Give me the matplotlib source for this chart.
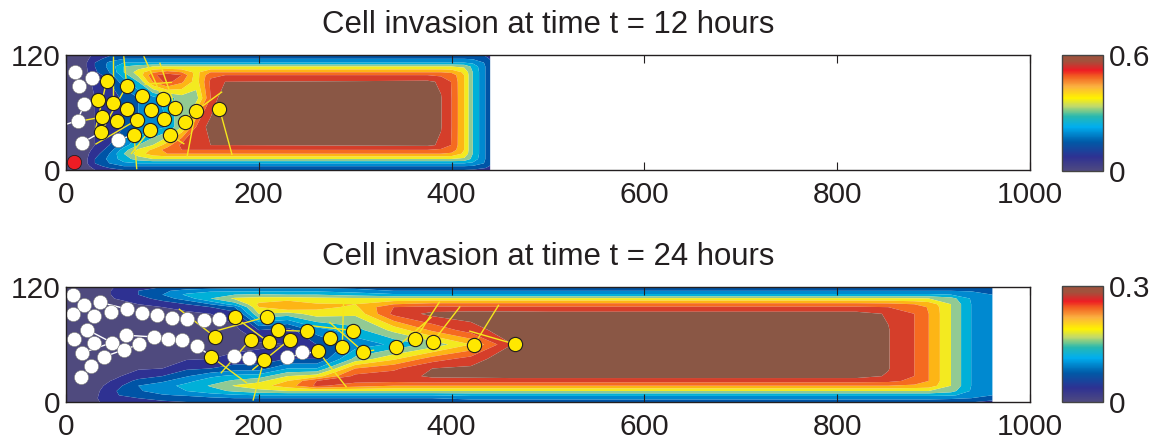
import matplotlib
matplotlib.use('Agg')
import matplotlib.pyplot as plt
import numpy as np
from matplotlib.cm import ScalarMappable
from matplotlib.colors import LinearSegmentedColormap, Normalize

plt.rcParams['font.family'] = ['Liberation Sans', 'DejaVu Sans']

# contour band colours and the smoother colorbar version
band_colors = ['#4f4a7e', '#2e3192', '#0054a6', '#0089d0', '#00b0d8', '#92ca93',
               '#f3ea20', '#fdb515', '#f56b20', '#d53e2a', '#8a5745']
bar_stops = [(0.0, '#4f4a80'), (0.12, '#2e3192'), (0.25, '#005aa7'), (0.38, '#00aeef'),
             (0.47, '#27b8b0'), (0.56, '#c2d96b'), (0.63, '#fff200'), (0.73, '#fbb040'),
             (0.81, '#f26522'), (0.87, '#ed1c24'), (0.95, '#a0523d'), (1.0, '#a0523d')]

# field values are read in contour band units (0-11), scaled by the panel maximum
top_vmax = 0.6
top_x = [0, 20, 30, 45, 60, 75, 90, 105, 120, 135, 150, 165, 375, 389, 400, 413, 422, 435, 440]
top_y = [0, 4, 7, 11.5, 17, 21, 26, 45, 75, 92, 99, 102, 108, 112, 116, 120]
top_z = [
    [.2, .3, .3, .3, .3, .3, .3, .3, .3, .3, .3, .3, .3, .3, .3, .2],
    [.5, .6, .7, .7, .7, .7, .7, .7, .7, .7, .7, .7, .8, .8, .7, .6],
    [1, 1.5, 2, 2, 1.5, 1.2, 1, 1, 1, 1.2, 1.5, 1.8, 2, 2, 1.5, 1.2],
    [1.5, 2.5, 3, 3.3, 3, 2.5, 2, 1.5, 1.5, 2, 2.5, 3, 3.3, 3.2, 2.5, 1.8],
    [2, 3, 3.8, 4.5, 5, 4.5, 3.5, 2, 2.2, 3.5, 4.5, 5, 5, 4, 3, 2.2],
    [2, 3, 4, 5.5, 6.5, 6.2, 5, 3, 3, 5, 6.2, 6.5, 5.5, 4, 3, 2.3],
    [2, 3, 4, 6, 7.5, 7.2, 6, 3.5, 3.5, 8, 8.8, 7.8, 6, 4, 3, 2.4],
    [2, 3, 4, 6, 8, 8.5, 7.5, 4, 4.5, 9.4, 9.5, 8.5, 6, 4, 3, 2.5],
    [2, 3, 4, 6, 8, 9, 9.3, 6, 5.5, 8.2, 9, 8, 6, 4, 3, 2.5],
    [2, 3, 4, 6, 8, 9, 10, 9, 5.5, 6.5, 6.5, 6.7, 6, 4, 3, 2.5],
    [2, 3, 4, 6, 8, 9, 10, 10.5, 9, 9.2, 8.8, 8, 6, 4, 3, 2.5],
    [2, 3, 4, 6, 8, 9, 10, 11, 11, 10, 9, 8, 6, 4, 3, 2.5],
    [2, 3, 4, 6, 8, 9, 10.2, 11, 11, 10.2, 9, 8, 6, 4, 3, 2.5],
    [2, 3, 4, 6, 8, 8.8, 9.85, 10.05, 10.05, 9.85, 8.8, 8, 6, 4, 3, 2.5],
    [2, 3, 4, 6, 7.8, 8.6, 8.95, 9, 9, 8.95, 8.6, 7.8, 6, 4, 3, 2.5],
    [2, 3, 4, 5.8, 6.8, 7, 7, 7, 7, 7, 7, 6.8, 5.8, 4, 3, 2.4],
    [1.9, 2.9, 3.8, 4.7, 5, 5, 5, 5, 5, 5, 5, 5, 4.7, 3.8, 2.9, 2.2],
    [1.5, 2.5, 2.9, 3, 3, 3, 3, 3, 3, 3, 3, 3, 3, 2.9, 2.5, 1.8],
    [1.1, 1.9, 2.2, 2.3, 2.3, 2.3, 2.3, 2.3, 2.3, 2.3, 2.3, 2.3, 2.3, 2.2, 1.9, 1.3],
]

bot_vmax = 0.3
bot_x = [0, 30, 50, 75, 100, 125, 150, 175, 200, 230, 260, 300, 340, 380, 420, 460, 500,
         820, 853, 880, 895, 918, 939, 961]
bot_y = [0, 4, 7, 11.5, 17, 22, 27, 35, 45, 60, 75, 92, 99, 102, 108, 112, 116, 120]
bot_z = [
    [.3, .3, .3, .3, .3, .3, .3, .3, .3, .3, .3, .3, .3, .3, .3, .3, .3, .3],
    [.9, .9, .8, .7, .6, .6, .5, .5, .5, .5, .5, .5, .5, .5, .5, .5, .5, .5],
    [1.3, 1.6, 1.9, 1.9, 1.5, 1.1, .8, .6, .5, .5, .5, .5, .6, .7, 1, 1.1, 1.1, 1],
    [1.6, 2, 2.4, 2.9, 3, 2.3, 1.5, .9, .6, .5, .5, .6, .8, 1, 1.5, 2, 2, 1.5],
    [1.8, 2.4, 2.9, 3.4, 3.6, 2.8, 2, 1, .6, .5, .5, .7, 1, 1.3, 2.5, 3, 2.8, 2],
    [2, 2.6, 3.1, 4, 4.3, 3.7, 2.9, 1.8, .9, .5, .5, .8, 1.3, 2, 3.5, 4.2, 3.4, 2.3],
    [2.1, 2.8, 3.5, 4.6, 5.1, 4.5, 3.8, 2, 1, .6, .6, 1, 2, 3, 5, 5, 3.7, 2.4],
    [2.2, 3, 3.8, 5.2, 6.1, 5.2, 4.3, 2.5, 1.3, .6, .7, 1.5, 3, 4.5, 6.2, 5, 3.8, 2.5],
    [2.3, 3, 4, 5.7, 6.6, 5.7, 4.5, 2.5, 1.4, .8, 2, 6, 7, 7.2, 6.4, 5.2, 3.8, 2.5],
    [2.4, 3, 4, 6, 7.5, 7, 6, 4, 2, 1, 1.5, 5.5, 8, 7.8, 6.5, 5, 3.8, 2.6],
    [2.4, 3, 4, 6, 9.2, 9, 6.5, 4, 2, 2, 3.5, 6.5, 7.3, 7.1, 6.3, 5, 3.8, 2.6],
    [2.5, 3, 4, 6, 8.5, 9.3, 9.3, 8, 5.3, 3.4, 4.6, 6.2, 6.8, 7, 6.2, 4.6, 3.5, 2.5],
    [2.4, 3, 4, 6, 8, 9.3, 9.5, 8.8, 6.8, 4.2, 6.3, 9.3, 9, 8, 6.2, 4.2, 3, 2.4],
    [2.4, 3, 4, 6, 8, 9.5, 10.2, 10, 8.5, 5.3, 8.2, 10.3, 9.2, 8.4, 6.2, 4.2, 3, 2.4],
    [2.4, 3.3, 4.2, 6, 8, 9.4, 10.3, 10.2, 9.4, 7, 9.5, 10.5, 9.1, 8.4, 6.2, 4.2, 3, 2.4],
    [2.4, 3.3, 4.2, 6, 8, 9.4, 10.4, 10.8, 10.8, 9.9, 10.6, 10.5, 9.1, 8.4, 6.2, 4.2, 3, 2.4],
    [2.4, 3.3, 4.2, 6, 8, 9.4, 10.4, 11, 11, 11, 11, 10.4, 9.1, 8.4, 6.2, 4.2, 3, 2.4],
    [2.4, 3.3, 4.2, 6, 8, 9.4, 10.4, 11, 11, 11, 11, 10.4, 9.1, 8.4, 6.2, 4.2, 3, 2.4],
    [2.4, 3.3, 4.2, 6, 8, 9.3, 9.9, 10.05, 10.05, 10.05, 10.05, 9.9, 9, 8.3, 6.2, 4.2, 3, 2.4],
    [2.4, 3.3, 4.2, 6, 7.8, 8.7, 9, 9, 9, 9, 9, 9, 8.6, 8, 6.1, 4.2, 3, 2.4],
    [2.4, 3.3, 4.2, 6, 7.6, 8, 8, 8, 8, 8, 8, 8, 7.9, 7.6, 6, 4.2, 3, 2.4],
    [2.3, 3.2, 4.1, 5.4, 6, 6, 6, 6, 6, 6, 6, 6, 6, 6, 5.4, 4, 3, 2.3],
    [2.1, 3, 3.7, 3.9, 4, 4, 4, 4, 4, 4, 4, 4, 4, 4, 3.9, 3.6, 2.9, 2.2],
    [1.6, 2.6, 3, 3.1, 3.1, 3.1, 3.1, 3.1, 3.1, 3.1, 3.1, 3.1, 3.1, 3.1, 3.1, 3, 2.6, 1.8],
]

# cells, panel at t = 12
top_white_x = [9, 26.6, 13.8, 19, 12, 16.3, 54.3]
top_white_y = [102.6, 96.3, 88, 68.9, 51.5, 28.2, 31.3]
top_red_x = [8.7]
top_red_y = [8]
top_yellow_x = [42.2, 63, 78.9, 100.3, 33.6, 48.8, 63, 87.9, 113.5, 134.6, 159.2, 37.4, 53.3,
                73.4, 101.7, 123.5, 36.7, 87.5, 70.6, 107.6]
top_yellow_y = [92.9, 88, 76.9, 74.4, 73.4, 69.6, 63.3, 62.6, 64.7, 61.6, 64, 55.3, 51.1,
                52.2, 52.9, 50.4, 39.7, 42.1, 36.9, 36.2]
top_links = [(48.8, 69.6, 48.8, 118.9), (63, 88, 59.9, 119), (100.3, 74.4, 80.6, 119),
             (113.5, 64.7, 97.2, 112), (81.3, 89.4, 110, 91.5), (159.2, 64, 172.3, 15.7),
             (134.6, 61.6, 125.6, 13.9), (134.6, 61.6, 162, 81.7), (70.6, 36.9, 73.4, 0.7),
             (87.5, 42.1, 67.5, 16.7), (107.6, 36.2, 122.8, 27.1), (73.4, 52.2, 30.4, 26.8),
             (63, 88, 39.5, 45), (42.2, 92.9, 30.4, 41.7), (37.4, 55.3, 20, 52)]
top_white_links = [(12, 51.5, 1, 48), (36.7, 39.7, 16.3, 28.2), (42.2, 92.9, 26.6, 96.3),
                   (70.6, 36.9, 54.3, 31.3), (12, 51.5, 19, 68.9), (9, 102.6, 13.8, 88)]

# cells, panel at t = 24
bot_white_x = [7, 19, 35, 7.4, 29.4, 46.8, 62.8, 78.4, 94.4, 110, 126, 143.1, 158.7, 21.9, 8.6,
               29, 47.6, 62, 76.2, 91, 106, 120.8, 136, 16.4, 39.4, 60.2, 26, 16, 174.3, 190,
               229.7, 245]
bot_white_y = [112, 101.4, 104, 91.4, 90, 93.4, 97.2, 93.1, 91, 87.6, 86.6, 85.9, 86.2, 75.5,
               65.5, 62, 62, 69.7, 60.3, 67.9, 66.2, 65.2, 58.6, 51, 47.2, 54.1, 37.9, 25.9,
               48.3, 46.2, 46.9, 52]
bot_yellow_x = [175, 208.2, 155, 191.4, 210.4, 220.4, 250.2, 232, 274, 298, 286.6, 261.3, 308.6,
                150.9, 205.2, 342.8, 362.5, 380.3, 423, 465.8]
bot_yellow_y = [88.6, 89, 67.6, 65.2, 62.4, 74.8, 73.8, 65.2, 67.2, 74.5, 57.9, 53.1, 52.4,
                47.2, 43.4, 56.9, 65.9, 62.4, 59, 60.3]
bot_links = [(465.8, 60.3, 418.2, 74.1), (423, 59, 449, 101.4), (380.3, 62.4, 408.9, 99.7),
             (362.5, 65.9, 387.7, 104.8), (342.8, 56.9, 379.2, 88.6), (308.6, 52.4, 273.2, 83.4),
             (308.6, 52.4, 319.7, 54.1), (261.3, 53.1, 291, 15.5), (286.6, 57.9, 288, 105.9),
             (298, 74.5, 250.9, 80), (250.2, 73.8, 220.4, 74.8), (155, 67.6, 117, 97.2),
             (175, 88.6, 210.4, 62.4), (208.2, 89, 155, 74), (191.4, 65.2, 160.6, 30),
             (232, 65.2, 193.3, 33.4), (205.2, 43.4, 194, 1.4), (150.9, 47.2, 187.7, 19.7)]
bot_white_links = [(35, 104, 62.8, 97.2), (21.9, 75.5, 47.6, 62), (62, 69.7, 91, 67.9),
                   (39.4, 47.2, 76.2, 60.3), (174.3, 48.3, 205.2, 43.4), (229.7, 46.9, 261.3, 53.1),
                   (136, 58.6, 150.9, 47.2), (16.4, 51, 47.6, 62)]

x_ticks = [0, 200, 400, 600, 800, 1000]
y_ticks = [0, 120]
dark = '#231f20'
W, H = 1163, 441


def draw_panel(box, cbox, title, xs, ys, zs, vmax, white, yellow, links, white_links, red=None):
    ax = fig.add_axes([box[0] / W, 1 - box[3] / H, (box[2] - box[0]) / W, (box[3] - box[1]) / H])
    levels = np.r_[np.arange(11), 12] * vmax / 11
    z = np.array(zs).T * vmax / 11
    ax.contourf(xs, ys, z, levels=levels, colors=band_colors, antialiased=True)
    for x0, y0, x1, y1 in links:
        ax.plot([x0, x1], [y0, y1], color='#f6e71d', lw=1.0, zorder=3, solid_capstyle='butt')
    for x0, y0, x1, y1 in white_links:
        ax.plot([x0, x1], [y0, y1], color='white', lw=1.0, zorder=3)
    ax.scatter(white[0], white[1], s=105, c='white', edgecolors='#777777', linewidths=0.4, zorder=4)
    ax.scatter(yellow[0], yellow[1], s=105, c='#ffe800', edgecolors=dark, linewidths=0.8, zorder=5)
    if red is not None:
        ax.scatter(red[0], red[1], s=105, c='#ed1c24', edgecolors=dark, linewidths=0.6, zorder=5)
    ax.set_xlim(0, 1000)
    ax.set_ylim(0, 120)
    ax.set_xticks(x_ticks)
    ax.set_yticks(y_ticks)
    ax.tick_params(axis='x', direction='in', top=True, length=6, width=0.8, color=dark,
                   labelsize=21.5, labelcolor=dark, pad=8)
    ax.tick_params(axis='y', direction='in', right=True, length=0, labelsize=21.5,
                   labelcolor=dark, pad=4)
    for s in ax.spines.values():
        s.set_color(dark)
        s.set_linewidth(1.0)
        s.set_zorder(6)
    ax.set_title(title, fontsize=22.4, color=dark, pad=15.5)

    cax = fig.add_axes([cbox[0] / W, 1 - cbox[3] / H, (cbox[2] - cbox[0]) / W, (cbox[3] - cbox[1]) / H])
    bar_cmap = LinearSegmentedColormap.from_list('bar', bar_stops)
    cb = fig.colorbar(ScalarMappable(Normalize(0, vmax), bar_cmap), cax=cax, ticks=[0, vmax])
    cb.ax.set_yticklabels(['0', str(vmax)])
    cb.ax.tick_params(length=0, labelsize=21.5, labelcolor=dark, pad=4)
    cb.outline.set_edgecolor('#444444')
    cb.outline.set_linewidth(1.0)


fig = plt.figure(figsize=(W / 100, H / 100), dpi=100)
draw_panel((66, 55, 1030, 170), (1062, 55, 1103, 171), 'Cell invasion at time t = 12 hours',
           top_x, top_y, top_z, top_vmax, (top_white_x, top_white_y), (top_yellow_x, top_yellow_y),
           top_links, top_white_links, red=(top_red_x, top_red_y))
draw_panel((66, 287, 1030, 402), (1062, 286, 1103, 402), 'Cell invasion at time t = 24 hours',
           bot_x, bot_y, bot_z, bot_vmax, (bot_white_x, bot_white_y), (bot_yellow_x, bot_yellow_y),
           bot_links, bot_white_links)
fig.savefig('out.png', dpi=100)
